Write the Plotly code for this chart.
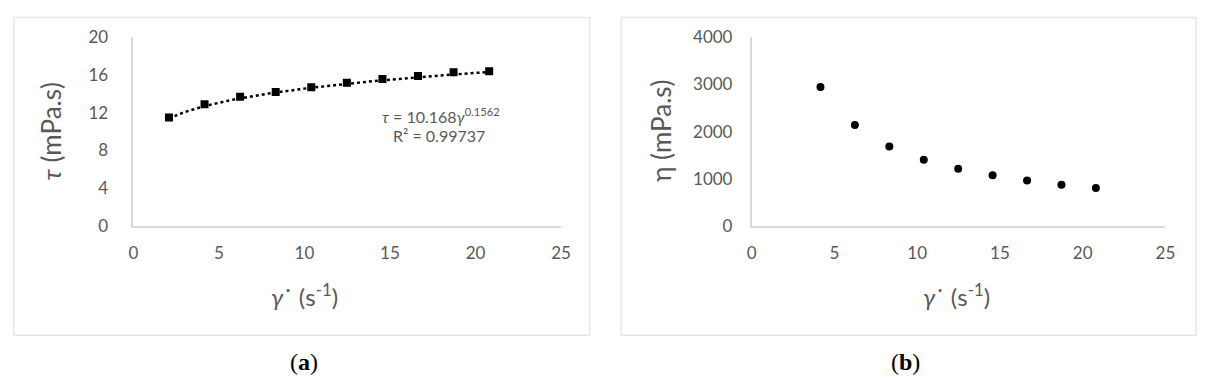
import numpy as np
import plotly.graph_objects as go

# ---- data ----
shear_rate_a = [2.08, 4.16, 6.24, 8.32, 10.4, 12.48, 14.56, 16.64, 18.72, 20.8]
shear_stress = [11.5, 12.9, 13.7, 14.2, 14.7, 15.2, 15.6, 15.9, 16.3, 16.4]
fit_coef = 10.168
fit_exp = 0.1562
fit_r2 = 0.99737

shear_rate_b = [4.16, 6.24, 8.32, 10.4, 12.48, 14.56, 16.64, 18.72, 20.8]
viscosity = [2950, 2140, 1680, 1400, 1210, 1070, 960, 870, 800]

x_ticks = [0, 5, 10, 15, 20, 25]
y_ticks_a = [0, 4, 8, 12, 16, 20]
y_ticks_b = [0, 1000, 2000, 3000, 4000]

W, H = 1209, 386
GRAY = "#595959"
AXIS = "#d9d9d9"
FONT = "Lato"

def px(x):
    return x / W

def py(y):
    return 1 - y / H

fig = go.Figure()

# trendline (power fit shown in chart)
xt = np.linspace(shear_rate_a[0], shear_rate_a[-1], 200)
fig.add_trace(go.Scatter(x=xt, y=fit_coef * xt ** fit_exp, mode="lines",
                         line=dict(color="black", width=2.5, dash="dot"),
                         xaxis="x", yaxis="y", hoverinfo="skip"))
fig.add_trace(go.Scatter(x=shear_rate_a, y=shear_stress, mode="markers",
                         marker=dict(color="black", size=8, symbol="square"),
                         xaxis="x", yaxis="y"))
fig.add_trace(go.Scatter(x=shear_rate_b, y=viscosity, mode="markers",
                         marker=dict(color="black", size=8),
                         xaxis="x2", yaxis="y2"))

axis_common = dict(showgrid=False, zeroline=False, showline=True, linecolor=AXIS,
                   linewidth=1.5, ticks="", tickfont=dict(family=FONT, size=17, color=GRAY))

fig.update_layout(
    width=W, height=H, autosize=False, showlegend=False,
    margin=dict(l=0, r=0, t=0, b=0),
    paper_bgcolor="white", plot_bgcolor="white",
    xaxis=dict(domain=[px(130), px(563)], range=[0, 25], tickvals=x_ticks,
               anchor="y", ticklabelstandoff=11, **axis_common),
    yaxis=dict(domain=[py(227), py(28)], range=[0, 20], tickvals=y_ticks_a,
               anchor="x", ticklabelstandoff=20, **axis_common),
    xaxis2=dict(domain=[px(756), px(1175)], range=[0, 25], tickvals=x_ticks,
                anchor="y2", ticklabelstandoff=11, **axis_common),
    yaxis2=dict(domain=[py(227), py(28)], range=[0, 4000], tickvals=y_ticks_b,
                anchor="x2", ticklabelstandoff=14, **axis_common),
)

# panel frames
for x0, x1 in [(9, 592), (624, 1206)]:
    fig.add_shape(type="rect", xref="paper", yref="paper",
                  x0=px(x0), x1=px(x1), y0=py(343), y1=py(7),
                  line=dict(color="#e6e6e6", width=1.5), fillcolor="rgba(0,0,0,0)")

ann = []
# axis titles
xt_text = "<i>γ</i>˙ (s<sup>-1</sup>)"
ann.append(dict(x=px(303), y=py(300), text=xt_text, font=dict(family=FONT, size=24, color=GRAY)))
ann.append(dict(x=px(963), y=py(300), text=xt_text, font=dict(family=FONT, size=24, color=GRAY)))
ann.append(dict(x=px(47), y=py(127), text="<i>τ</i> (mPa.s)", textangle=-90, font=dict(family=FONT, size=26, color=GRAY)))
ann.append(dict(x=px(664), y=py(127), text="η (mPa.s)", textangle=-90, font=dict(family=FONT, size=26, color=GRAY)))
# fit equation
ann.append(dict(x=px(441), y=py(110), text=f"<i>τ</i> = {fit_coef}<i>γ</i><sup>{fit_exp}</sup>",
                font=dict(family=FONT, size=16, color=GRAY)))
ann.append(dict(x=px(439), y=py(132), text=f"R² = {fit_r2}", font=dict(family=FONT, size=16, color=GRAY)))
# panel labels
ann.append(dict(x=px(303), y=py(371), text="(<b>a</b>)", font=dict(family="Liberation Serif", size=24, color="black")))
ann.append(dict(x=px(912), y=py(371), text="(<b>b</b>)", font=dict(family="Liberation Serif", size=24, color="black")))

for a in ann:
    a.update(xref="paper", yref="paper", showarrow=False, xanchor="center", yanchor="middle")
    fig.add_annotation(**a)

fig.write_html("out.html")
